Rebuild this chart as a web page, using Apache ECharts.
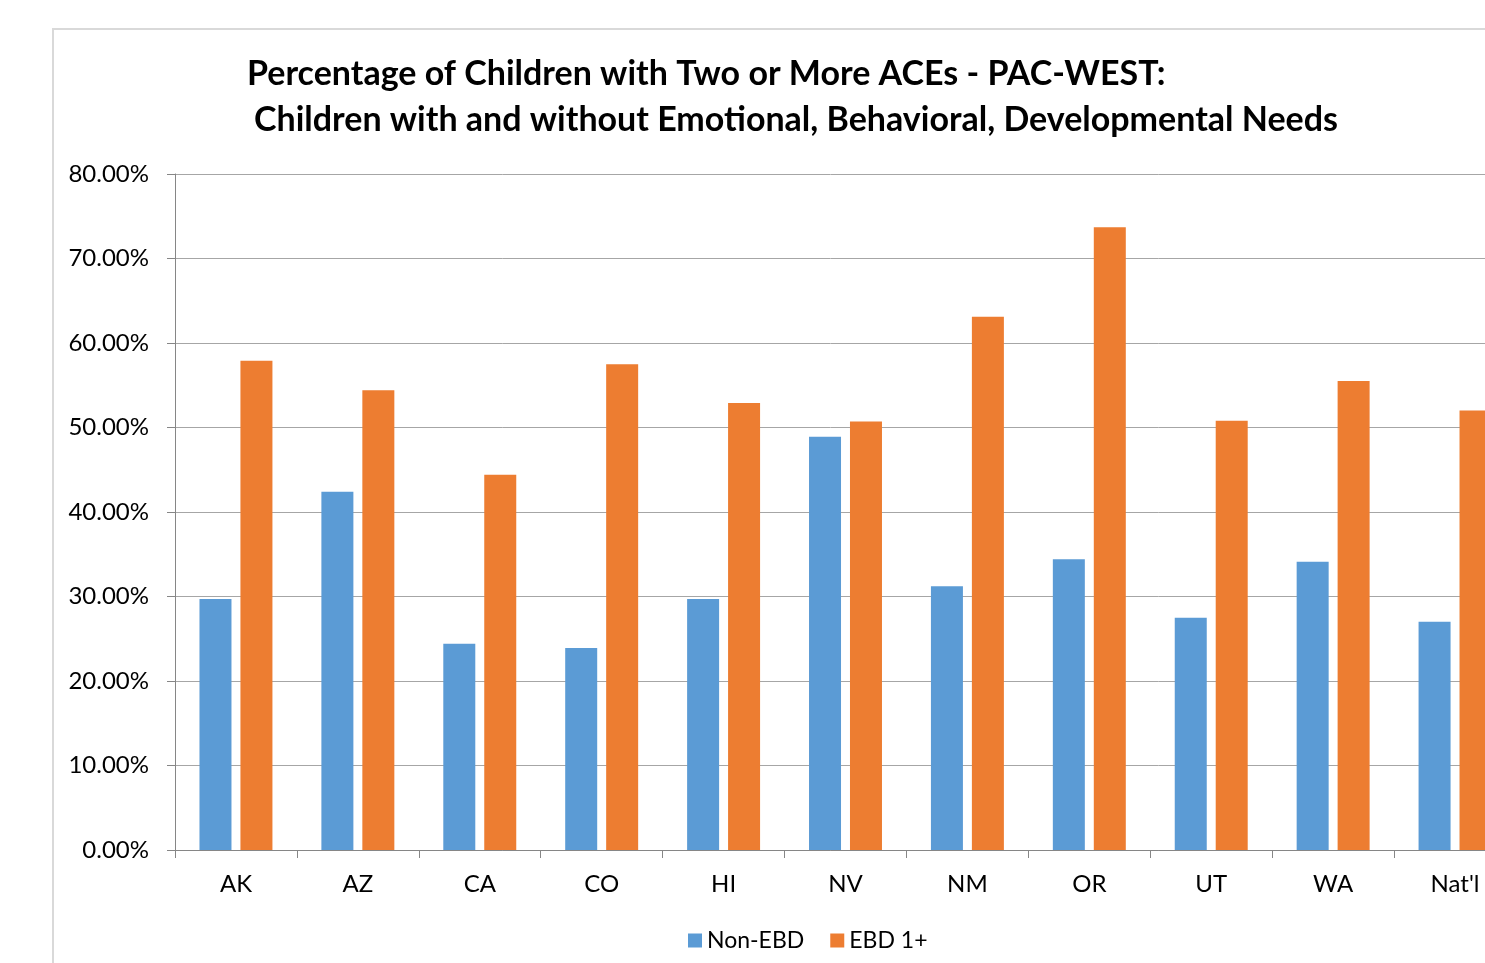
<!DOCTYPE html>
<html><head><meta charset="utf-8">
<script src="https://cdn.jsdelivr.net/npm/echarts@6/dist/echarts.min.js"></script>
<style>html,body{margin:0;padding:0;background:#fff}#c{width:1485px;height:963px}</style>
</head><body><div id="c"></div>
<script>
const categories = ["AK","AZ","CA","CO","HI","NV","NM","OR","UT","WA","Nat'l"];
const nonEBD = [29.7, 42.4, 24.4, 23.9, 29.7, 48.9, 31.2, 34.4, 27.5, 34.1, 27.0];
const ebd1 = [57.9, 54.4, 44.4, 57.5, 52.9, 50.7, 63.1, 73.7, 50.8, 55.5, 52.0];
const titleLine1 = "Percentage of Children with Two or More ACEs - PAC-WEST:";
const titleLine2 = "Children with and without Emotional, Behavioral, Developmental Needs";
const FONT = "Lato";
const chart = echarts.init(document.getElementById('c'));
chart.setOption({
  animation: false,
  textStyle: {fontFamily: FONT},
  graphic: [
    {type:'rect', shape:{x:53, y:29, width:1500, height:1000}, style:{fill:'none', stroke:'#d9d9d9', lineWidth:2}, z:-1}
  ],
  title: [
    {text: titleLine1, left: 242, top: 52, textStyle:{fontFamily:FONT, fontWeight:'bold', fontSize:34, color:'#000'}},
    {text: titleLine2, left: 249, top: 98, textStyle:{fontFamily:FONT, fontWeight:'bold', fontSize:34, color:'#000'}}
  ],
  legend: {
    bottom: 6, left: 683, itemWidth: 14, itemHeight: 14, itemGap: 26,
    icon: 'rect',
    textStyle: {fontFamily: FONT, fontSize: 23, color:'#000'},
    data: ['Non-EBD','EBD 1+']
  },
  grid: {left: 175, width: 1341, top: 174, height: 676, containLabel: false, outerBoundsMode: 'none'},
  xAxis: {
    type: 'category', data: categories,
    axisLine: {lineStyle:{color:'#868686', width:1}},
    axisTick: {show:true, length:8, lineStyle:{color:'#868686'}, alignWithLabel:false},
    axisLabel: {fontFamily: FONT, fontSize: 24, color:'#000', margin: 22}
  },
  yAxis: {
    type: 'value', min: 0, max: 80, interval: 10,
    axisLine: {show:true, lineStyle:{color:'#868686', width:1}},
    axisTick: {show:true, length:8, lineStyle:{color:'#868686'}},
    splitLine: {lineStyle:{color:'#a6a6a6', width:1}},
    axisLabel: {fontFamily: FONT, fontSize: 24, color:'#000', margin: 26, formatter: v => v.toFixed(2) + '%'}
  },
  series: [
    {name:'Non-EBD', type:'bar', data: nonEBD, itemStyle:{color:'#5B9BD5'}, barWidth: 32, barGap: '28%'},
    {name:'EBD 1+', type:'bar', data: ebd1, itemStyle:{color:'#ED7D31'}, barWidth: 32, barGap: '28%'}
  ]
});
</script></body></html>
